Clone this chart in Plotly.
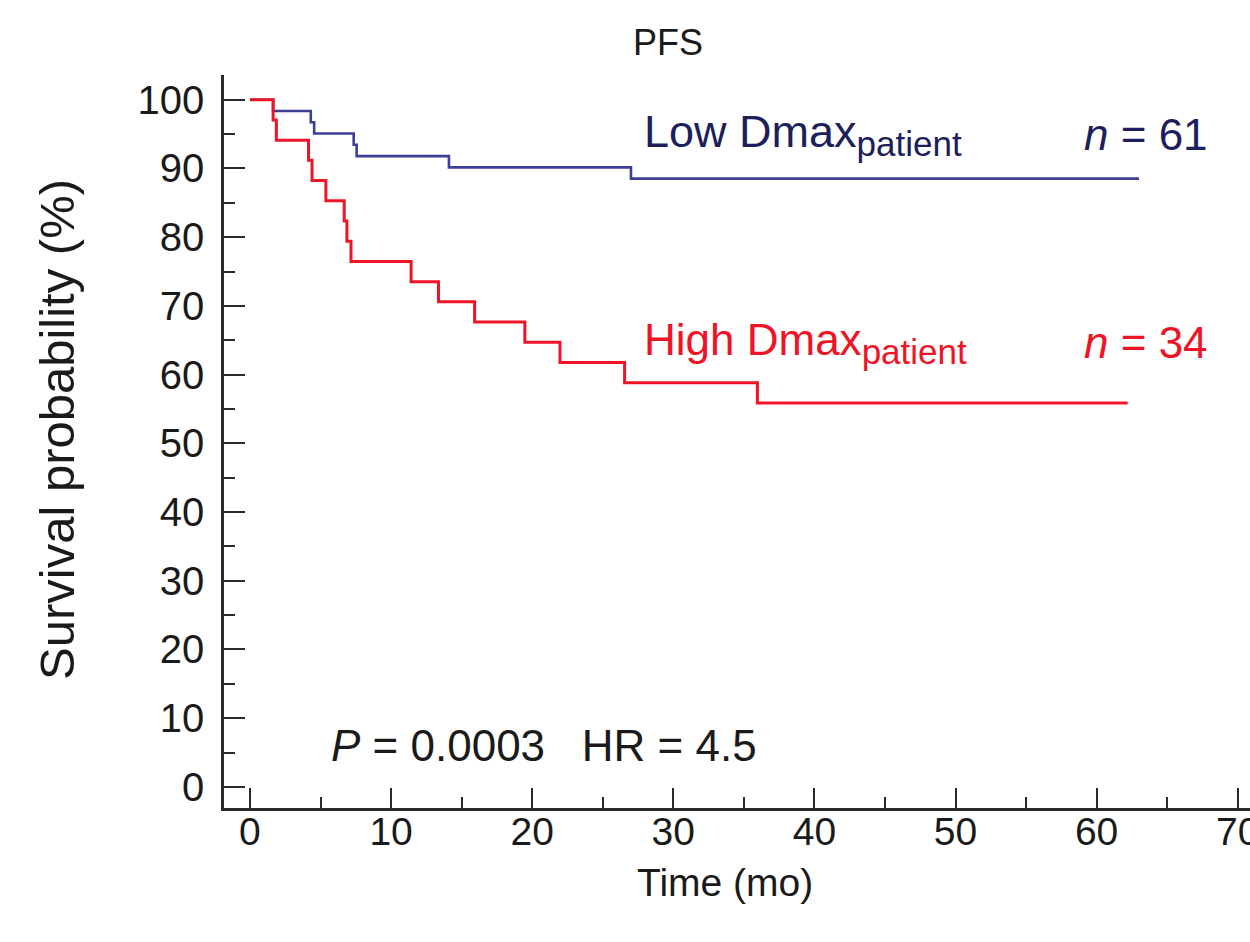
import plotly.graph_objects as go

# Kaplan-Meier PFS estimates (months, % surviving)
low_time = [0, 1.64, 4.31, 4.55, 7.35, 7.56, 14.1, 27.0, 63.0]
low_surv = [100, 98.36, 96.72, 95.08, 93.44, 91.80, 90.16, 88.52, 88.52]

high_time = [0, 1.64, 1.87, 4.15, 4.40, 5.38, 6.68, 6.87, 7.16, 11.42, 13.36,
             15.92, 19.48, 21.97, 26.55, 35.96, 62.2]
high_surv = [100, 97.06, 94.12, 91.18, 88.24, 85.29, 82.35, 79.41, 76.47, 73.53,
             70.59, 67.65, 64.71, 61.76, 58.82, 55.88, 55.88]

x_ticks = [0, 10, 20, 30, 40, 50, 60, 70]
y_ticks = [0, 10, 20, 30, 40, 50, 60, 70, 80, 90, 100]

BLUE_LINE = "#3b3f96"
BLUE_TEXT = "#1c1f5c"
RED = "#ee1426"
AXIS = "#2a2a2a"
TEXT = "#1a1a1a"
FONT = "Liberation Sans, Arial, sans-serif"

fig = go.Figure()
fig.add_trace(go.Scatter(x=low_time, y=low_surv, mode="lines",
                         line=dict(shape="hv", color=BLUE_LINE, width=2.6),
                         showlegend=False, hoverinfo="skip"))
fig.add_trace(go.Scatter(x=high_time, y=high_surv, mode="lines",
                         line=dict(shape="hv", color=RED, width=3),
                         showlegend=False, hoverinfo="skip"))

sp = "\u00a0"
sub = "<sub><span style='font-size:35px'>patient</span></sub>"
annotations = [
    dict(x=27.8, y=94.9, text="Low Dmax" + sub, xanchor="left", yanchor="middle",
         font=dict(size=45, color=BLUE_TEXT), showarrow=False),
    dict(x=68.0, y=94.9, text="<i>n</i> = 61", xanchor="right", yanchor="middle",
         font=dict(size=44, color=BLUE_TEXT), showarrow=False),
    dict(x=27.8, y=64.6, text="High Dmax" + sub, xanchor="left", yanchor="middle",
         font=dict(size=44, color=RED), showarrow=False),
    dict(x=68.0, y=64.6, text="<i>n</i> = 34", xanchor="right", yanchor="middle",
         font=dict(size=44, color=RED), showarrow=False),
    dict(x=5.6, y=6.0, text="<i>P</i> = 0.0003" + sp * 3 + "HR = 4.5",
         xanchor="left", yanchor="middle",
         font=dict(size=44, color=TEXT), showarrow=False),
    # axis titles
    dict(xref="paper", yref="paper", x=(57 - 224) / 1026, y=(808 - 430) / 733,
         text="Survival probability (%)", textangle=-90, xanchor="center", yanchor="middle",
         font=dict(size=49, color=TEXT), showarrow=False),
    dict(xref="paper", yref="paper", x=(725 - 224) / 1026, y=(808 - 882) / 733,
         text="Time (mo)", xanchor="center", yanchor="middle",
         font=dict(size=39, color=TEXT), showarrow=False),
]

fig.update_layout(
    width=1250, height=942,
    margin=dict(l=224, r=0, t=75, b=134, autoexpand=False),
    paper_bgcolor="white", plot_bgcolor="white",
    font=dict(family=FONT, color=TEXT),
    title=dict(text="PFS", x=668 / 1250, xanchor="center", y=1 - 42 / 942, yanchor="middle",
               font=dict(size=36, color=TEXT)),
    annotations=annotations,
    xaxis=dict(
        range=[-1.84, 70.87], tickvals=x_ticks, ticktext=[str(v) for v in x_ticks],
        showgrid=False, zeroline=False, showline=True, linecolor=AXIS, linewidth=2.5,
        ticks="inside", ticklen=20, tickwidth=2, tickcolor=AXIS,
        minor=dict(dtick=5, tick0=0, ticks="inside", ticklen=11, tickwidth=2, tickcolor=AXIS),
        tickfont=dict(size=39), ticklabelstandoff=-13, ticklabeloverflow="allow",
        automargin=False,
    ),
    yaxis=dict(
        range=[-3.07, 103.6], tickvals=y_ticks, ticktext=[str(v) for v in y_ticks],
        showgrid=False, zeroline=False, showline=True, linecolor=AXIS, linewidth=2.5,
        ticks="inside", ticklen=21, tickwidth=2, tickcolor=AXIS,
        minor=dict(dtick=5, tick0=0, ticks="inside", ticklen=11, tickwidth=2, tickcolor=AXIS),
        tickfont=dict(size=40), ticklabelstandoff=9, automargin=False,
    ),
)

fig.write_html("out.html")
